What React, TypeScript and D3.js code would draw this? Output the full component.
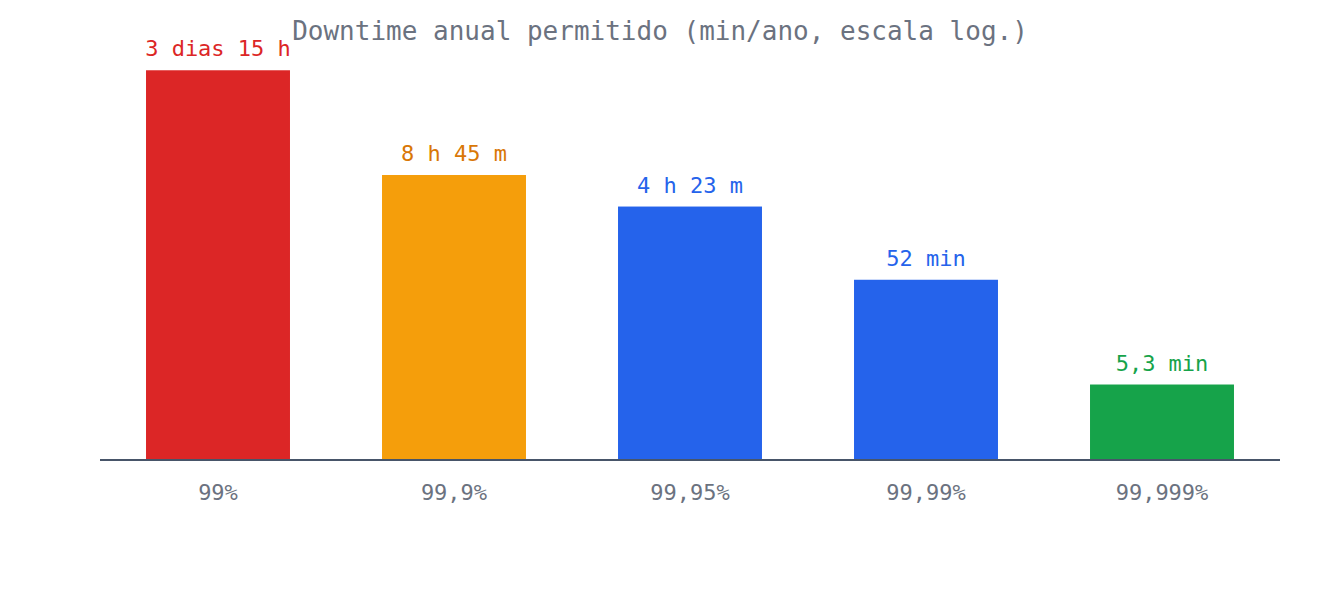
import { useEffect, useRef } from "react";
import * as d3 from "d3";

const LEVELS = ["99%", "99,9%", "99,95%", "99,99%", "99,999%"];
// minutes of downtime per year allowed at each availability level
const DOWNTIME_MIN = [5256, 525.6, 262.8, 52.56, 5.256];
const DOWNTIME_TEXT = ["3 dias 15 h", "8 h 45 m", "4 h 23 m", "52 min", "5,3 min"];
const BAR_COLORS = ["#DC2626", "#F59E0B", "#2563EB", "#2563EB", "#16A34A"];
const TEXT_COLORS = ["#DC2626", "#D97706", "#2563EB", "#2563EB", "#16A34A"];

const FONT = "'DejaVu Sans Mono', monospace";

export default function App() {
  const ref = useRef<SVGSVGElement>(null);

  useEffect(() => {
    document.body.style.margin = "0";
    const el = ref.current;
    if (!el) return;
    const W = 1320, H = 600;
    const M = { top: 41, right: 40, bottom: 140, left: 100 };
    const svg = d3.select(el).attr("width", W).attr("height", H);
    svg.selectAll("*").remove();

    const rows = LEVELS.map((k, i) => ({
      key: k, v: DOWNTIME_MIN[i], text: DOWNTIME_TEXT[i], fill: BAR_COLORS[i], ink: TEXT_COLORS[i],
    }));

    const x = d3.scaleBand<string>().domain(LEVELS).range([M.left, W - M.right])
      .paddingInner(0.39).paddingOuter(0.195);
    const y = d3.scaleLog().domain([1, 10000]).range([H - M.bottom, M.top]);
    const base = y(1);

    svg.append("text")
      .attr("x", W / 2).attr("y", 40).attr("text-anchor", "middle")
      .attr("fill", "#6B7280").attr("font-size", 26).attr("font-family", FONT)
      .text("Downtime anual permitido (min/ano, escala log.)");

    svg.selectAll("rect.bar").data(rows).join("rect")
      .attr("class", "bar")
      .attr("x", (d) => x(d.key)!).attr("width", x.bandwidth())
      .attr("y", (d) => y(d.v)).attr("height", (d) => base - y(d.v))
      .attr("fill", (d) => d.fill);

    svg.selectAll("text.val").data(rows).join("text")
      .attr("class", "val")
      .attr("x", (d) => x(d.key)! + x.bandwidth() / 2).attr("y", (d) => y(d.v) - 14)
      .attr("text-anchor", "middle").attr("fill", (d) => d.ink)
      .attr("font-size", 22).attr("font-family", FONT).text((d) => d.text);

    svg.append("line")
      .attr("x1", M.left).attr("x2", W - M.right).attr("y1", base).attr("y2", base)
      .attr("stroke", "#475569").attr("stroke-width", 2);

    svg.selectAll("text.tick").data(rows).join("text")
      .attr("class", "tick")
      .attr("x", (d) => x(d.key)! + x.bandwidth() / 2).attr("y", base + 40)
      .attr("text-anchor", "middle").attr("fill", "#6B7280")
      .attr("font-size", 22).attr("font-family", FONT).text((d) => d.key);
  }, []);

  return <svg ref={ref} style={{ display: "block" }} role="img" aria-label="Downtime anual permitido" />;
}
